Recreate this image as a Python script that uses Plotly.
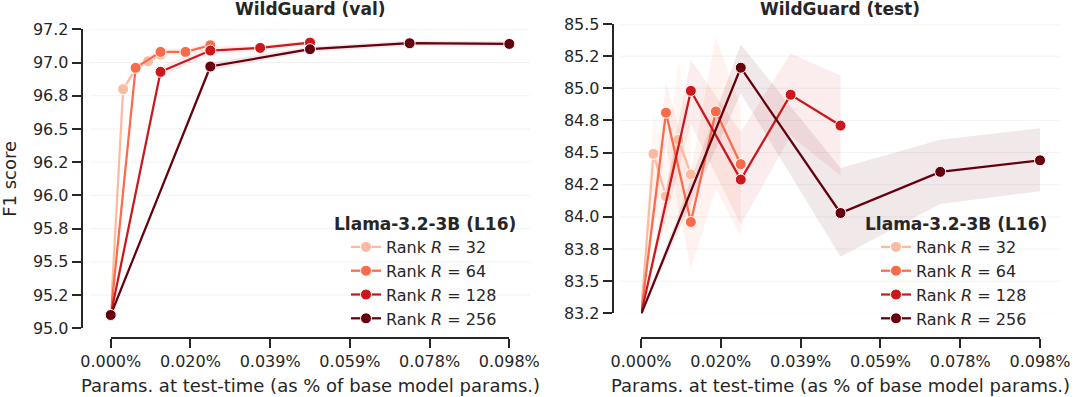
import plotly.graph_objects as go

# x: params at test-time (% of base model params), one list per rank
x_r32 = [0.0, 0.00306, 0.00613, 0.00919, 0.01225]
x_r64 = [0.0, 0.00613, 0.01225, 0.01838, 0.0245]
x_r128 = [0.0, 0.01225, 0.0245, 0.03675, 0.049]
x_r256 = [0.0, 0.0245, 0.049, 0.0735, 0.098]

# WildGuard (val) F1
val_r32 = [95.10, 96.80, 96.95, 97.01, 97.06]
val_r64 = [95.10, 96.96, 97.08, 97.08, 97.13]
val_r128 = [95.10, 96.93, 97.09, 97.11, 97.15]
val_r256 = [95.10, 96.97, 97.10, 97.145, 97.14]
val_err_r32 = [0.0, 0.02, 0.02, 0.02, 0.03]
val_err_r64 = [0.0, 0.02, 0.03, 0.02, 0.03]
val_err_r128 = [0.0, 0.04, 0.03, 0.02, 0.02]
val_err_r256 = [0.0, 0.03, 0.02, 0.02, 0.02]

# WildGuard (test) F1 with band bounds
test_r32 = [83.24, 84.49, 84.16, 84.60, 84.33]
test_lo_r32 = [83.24, 84.05, 83.85, 84.00, 84.00]
test_hi_r32 = [83.24, 84.80, 84.45, 85.22, 84.65]
test_r64 = [83.24, 84.81, 83.96, 84.82, 84.41]
test_lo_r64 = [83.24, 84.55, 83.60, 84.22, 83.85]
test_hi_r64 = [83.24, 85.05, 84.35, 85.40, 84.85]
test_r128 = [83.24, 84.98, 84.29, 84.95, 84.71]
test_lo_r128 = [83.24, 84.72, 83.94, 84.63, 84.32]
test_hi_r128 = [83.24, 85.22, 84.66, 85.27, 85.10]
test_r256 = [83.24, 85.16, 84.03, 84.35, 84.44]
test_lo_r256 = [83.24, 84.96, 83.69, 84.10, 84.20]
test_hi_r256 = [83.24, 85.34, 84.38, 84.60, 84.69]

ranks = [32, 64, 128, 256]
colors = ["#fcbba1", "#fb6a4a", "#cb181d", "#67000d"]
fills = ["rgba(252,187,161,0.12)", "rgba(251,106,74,0.09)",
         "rgba(203,24,29,0.08)", "rgba(103,0,13,0.09)"]

x_tickvals = [0.0, 0.0196, 0.0392, 0.0588, 0.0784, 0.098]
x_ticktext = ["0.000%", "0.020%", "0.039%", "0.059%", "0.078%", "0.098%"]
val_tickvals = [95.0, 95.25, 95.5, 95.75, 96.0, 96.25, 96.5, 96.75, 97.0, 97.25]
val_ticktext = ["95.0", "95.2", "95.5", "95.8", "96.0", "96.2", "96.5", "96.8", "97.0", "97.2"]
test_tickvals = [83.25, 83.5, 83.75, 84.0, 84.25, 84.5, 84.75, 85.0, 85.25, 85.5]
test_ticktext = ["83.2", "83.5", "83.8", "84.0", "84.2", "84.5", "84.8", "85.0", "85.2", "85.5"]

xs = [x_r32, x_r64, x_r128, x_r256]
val_y = [val_r32, val_r64, val_r128, val_r256]
val_err = [val_err_r32, val_err_r64, val_err_r128, val_err_r256]
test_y = [test_r32, test_r64, test_r128, test_r256]
test_lo = [test_lo_r32, test_lo_r64, test_lo_r128, test_lo_r256]
test_hi = [test_hi_r32, test_hi_r64, test_hi_r128, test_hi_r256]

INK = "#262626"
FONT = "DejaVu Sans"
W, H = 1080, 397

fig = go.Figure()

# bands first
for i in range(4):
    lo = [v - e for v, e in zip(val_y[i], val_err[i])]
    hi = [v + e for v, e in zip(val_y[i], val_err[i])]
    fig.add_trace(go.Scatter(x=xs[i], y=lo, mode="lines", line=dict(width=0),
                             showlegend=False, hoverinfo="skip", xaxis="x", yaxis="y"))
    fig.add_trace(go.Scatter(x=xs[i], y=hi, mode="lines", line=dict(width=0), fill="tonexty",
                             fillcolor=fills[i], showlegend=False, hoverinfo="skip",
                             xaxis="x", yaxis="y"))
    fig.add_trace(go.Scatter(x=xs[i], y=test_lo[i], mode="lines", line=dict(width=0),
                             showlegend=False, hoverinfo="skip", xaxis="x2", yaxis="y2"))
    fig.add_trace(go.Scatter(x=xs[i], y=test_hi[i], mode="lines", line=dict(width=0),
                             fill="tonexty", fillcolor=fills[i], showlegend=False,
                             hoverinfo="skip", xaxis="x2", yaxis="y2"))

for i, r in enumerate(ranks):
    name = "Rank <i>R</i> = %d" % r
    style = dict(mode="lines+markers", line=dict(color=colors[i], width=2.25),
                 marker=dict(color=colors[i], size=11, line=dict(color="white", width=1)),
                 cliponaxis=False, name=name)
    fig.add_trace(go.Scatter(x=xs[i], y=val_y[i], xaxis="x", yaxis="y", legend="legend", **style))
    fig.add_trace(go.Scatter(x=xs[i], y=test_y[i], xaxis="x2", yaxis="y2", legend="legend2", **style))


def px_x(p):
    return p / W


def px_y(p):
    return 1 - p / H


tick_font = dict(family=FONT, size=16, color=INK)
axis_common = dict(showline=True, linecolor=INK, linewidth=1.9, ticks="outside", ticklen=9,
                   tickwidth=1.9, tickcolor=INK, showgrid=False, zeroline=False,
                   tickfont=tick_font, automargin=False, anchor="free", fixedrange=True)
x_common = dict(range=[0, 0.098], position=px_y(338.3), tickvals=x_tickvals,
                ticktext=x_ticktext, ticklabelstandoff=0, **axis_common)
legend_common = dict(xanchor="left", yanchor="top", bgcolor="rgba(0,0,0,0)",
                     font=dict(family=FONT, size=16, color=INK), itemwidth=30,
                     traceorder="normal")

fig.update_layout(
    width=W, height=H, margin=dict(l=0, r=0, t=0, b=0),
    paper_bgcolor="white", plot_bgcolor="white",
    font=dict(family=FONT, color=INK),
    xaxis=dict(domain=[px_x(110.7), px_x(509.3)], **x_common),
    yaxis=dict(domain=[px_y(328.3), px_y(29.3)], range=[95.0, 97.25], position=px_x(81.7),
               tickvals=val_tickvals, ticktext=val_ticktext, **axis_common),
    xaxis2=dict(domain=[px_x(641), px_x(1040)], **x_common),
    yaxis2=dict(domain=[px_y(313.3), px_y(24)], range=[83.25, 85.5], position=px_x(612.7),
                tickvals=test_tickvals, ticktext=test_ticktext, **axis_common),
    legend=dict(x=px_x(346), y=px_y(230), **legend_common),
    legend2=dict(x=px_x(876), y=px_y(230), **legend_common),
)

# faint horizontal gridlines spanning the axes box
for tv in val_tickvals:
    fig.add_shape(type="line", xref="paper", yref="y", x0=px_x(90), x1=px_x(530), y0=tv, y1=tv,
                  line=dict(color="#f2f2f2", width=1), layer="below")
for tv in test_tickvals:
    fig.add_shape(type="line", xref="paper", yref="y2", x0=px_x(620), x1=px_x(1060), y0=tv, y1=tv,
                  line=dict(color="#f2f2f2", width=1), layer="below")

ann = []
for cx, title in [(310, "WildGuard (val)"), (840, "WildGuard (test)")]:
    ann.append(dict(x=px_x(cx), y=px_y(9), text="<b>%s</b>" % title, showarrow=False,
                    xref="paper", yref="paper", xanchor="center", yanchor="middle",
                    font=dict(family=FONT, size=17, color=INK)))
    ann.append(dict(x=px_x(cx), y=px_y(385), text="Params. at test-time (as % of base model params.)",
                    showarrow=False, xref="paper", yref="paper", xanchor="center", yanchor="middle",
                    font=dict(family=FONT, size=18, color=INK)))
for cx in [425.3, 956]:
    ann.append(dict(x=px_x(cx), y=px_y(224), text="<b>Llama-3.2-3B (L16)</b>", showarrow=False,
                    xref="paper", yref="paper", xanchor="center", yanchor="middle",
                    font=dict(family=FONT, size=17, color=INK)))
ann.append(dict(x=px_x(10), y=px_y(178.8), text="F1 score", textangle=-90, showarrow=False,
                xref="paper", yref="paper", xanchor="center", yanchor="middle",
                font=dict(family=FONT, size=18, color=INK)))
fig.update_layout(annotations=ann)

# drop the page's default body margin so the figure sits at the window's corner
fig.write_html("out.html", config={"displayModeBar": False},
               post_script="document.body.style.margin='0';")
